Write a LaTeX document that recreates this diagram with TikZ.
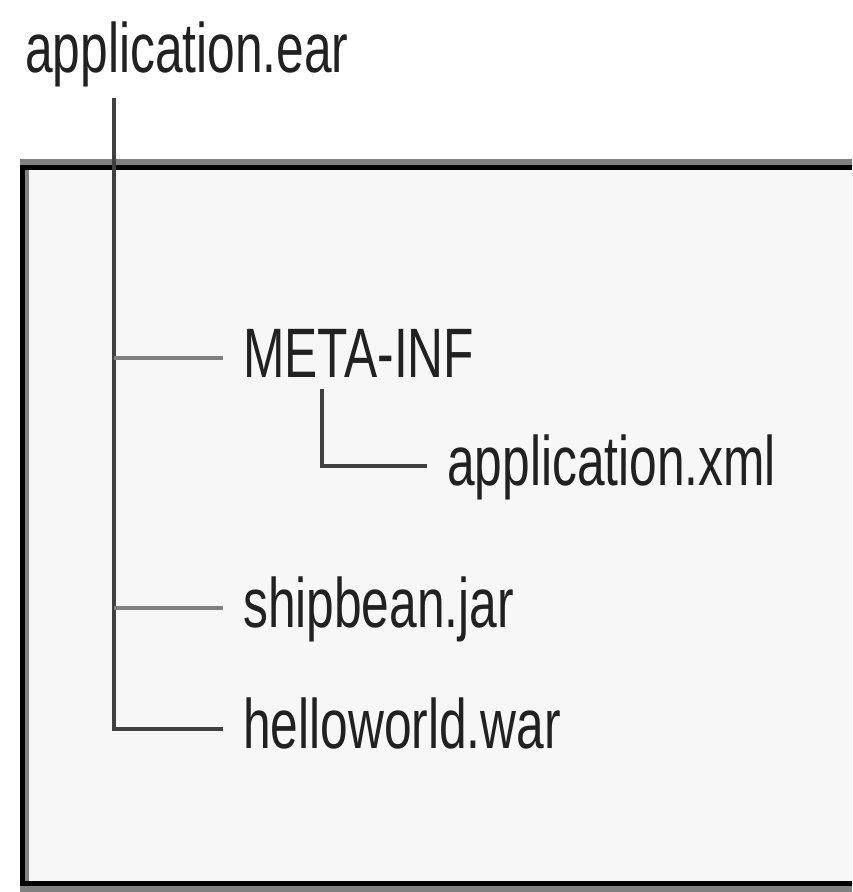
\documentclass[tikz,border=0pt]{standalone}
\usepackage{fontspec}
\setmainfont[FakeStretch=0.71]{Liberation Sans}

\begin{document}
\begin{tikzpicture}[x=1pt, y=-1pt,
  entry/.style={anchor=base west, inner xsep=20pt, inner ysep=0pt,
    text height=50pt, text depth=12pt, text=black!87,
    font=\fontsize{70}{84}\selectfont},
  trunkline/.style={draw=black!75, line width=4pt},
  twig/.style={draw=black!50, line width=4pt}]
  \useasboundingbox (0,0) rectangle (852,892);
  % archive frame, open on the right
  \fill[black!3] (22,167) rectangle (852,883);
  \draw[black!50, line width=6pt] (20,162) -- (852,162);
  \draw[black!50, line width=6pt] (20,889) -- (852,889);
  \draw[black!50, line width=4pt] (27,170) -- (27,881);
  \draw[line width=5pt] (852,167.5) -- (20,167.5) -- (22.5,167.5) -- (22.5,883) -- (852,883);
  \node[entry, inner xsep=0pt] (ear) at (25,72) {application.ear};
  \node[entry] (metainf) at (223,377) {META-INF};
  \node[entry] (appxml) at (427,485) {application.xml};
  \node[entry] (shipjar) at (223,627) {shipbean.jar};
  \node[entry] (hellowar) at (223,748) {helloworld.war};
  \coordinate (trunk) at (114,98);
  \coordinate (sub) at ([xshift=99pt]metainf.south west);
  \draw[trunkline] (trunk) |- (hellowar.west);
  \draw[twig] (trunk |- metainf.west) -- (metainf.west);
  \draw[twig] (trunk |- shipjar.west) -- (shipjar.west);
  \draw[trunkline] (sub) |- (appxml.west);
\end{tikzpicture}
\end{document}
